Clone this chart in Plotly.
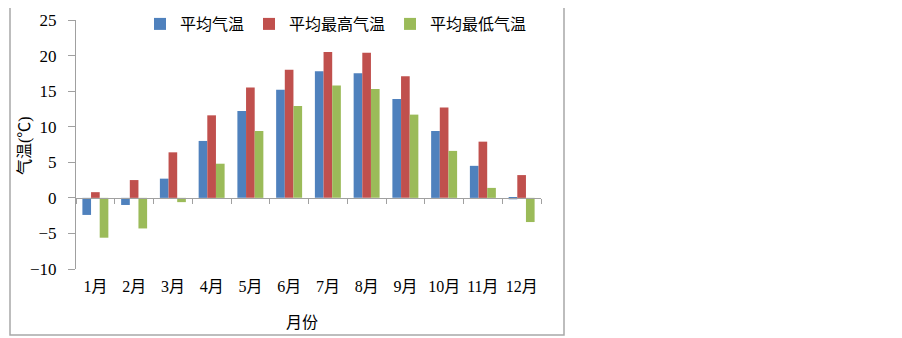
import plotly.graph_objects as go

months = ["1月", "2月", "3月", "4月", "5月", "6月", "7月", "8月", "9月", "10月", "11月", "12月"]
avg_temp = [-2.4, -1.0, 2.7, 8.0, 12.2, 15.2, 17.8, 17.5, 13.9, 9.4, 4.5, -0.2]
avg_max = [0.8, 2.5, 6.4, 11.6, 15.5, 18.0, 20.5, 20.4, 17.1, 12.7, 7.9, 3.2]
avg_min = [-5.6, -4.3, -0.6, 4.8, 9.4, 12.9, 15.8, 15.3, 11.7, 6.6, 1.4, -3.4]
series_names = ["平均气温", "平均最高气温", "平均最低气温"]
y_min, y_max, y_step = -10, 25, 5

colors = ["#4F81BD", "#C0504D", "#9BBB59"]
FONT = "Liberation Serif, 'Noto Sans CJK SC', serif"
AXIS_GRAY = "#A0A0A0"

fig = go.Figure()
for name, vals, col in zip(series_names, [avg_temp, avg_max, avg_min], colors):
    fig.add_trace(go.Bar(x=months, y=vals, name=name,
                         marker=dict(color=col, line=dict(width=0))))

# invisible helper trace so the zero-line axis knows the categories
fig.add_trace(go.Scatter(x=months, y=[0] * len(months), xaxis="x2", mode="markers",
                         marker=dict(opacity=0), showlegend=False, hoverinfo="skip"))

zero_pos = (0 - y_min) / (y_max - y_min)

# target plot area in page pixels; the page body adds an 8px offset
W, H = 902, 338
OFF = 8
L, R, T, B = 76, 541, 20, 269
pw, ph = R - L, B - T

def px_x(p):
    return (p - L) / pw

def px_y(p):
    return (B - p) / ph

fig.update_layout(
    width=W, height=H,
    margin=dict(l=L - OFF, r=W - (R - OFF), t=T - OFF, b=H - (B - OFF), pad=0,
                autoexpand=False),
    paper_bgcolor="white", plot_bgcolor="white",
    font=dict(family=FONT, size=15, color="#000000"),
    barmode="group", bargap=0.33, bargroupgap=0,
    showlegend=True,
    legend=dict(orientation="h", x=px_x(140), y=px_y(7), xanchor="left", yanchor="top",
                font=dict(size=16, family=FONT), bgcolor="rgba(0,0,0,0)",
                itemsizing="constant", traceorder="normal", itemwidth=30),
    xaxis=dict(type="category", categoryorder="array", categoryarray=months,
               range=[-0.5, len(months) - 0.5], showline=False, showgrid=False,
               ticks="", ticklabelstandoff=6, zeroline=False,
               tickfont=dict(size=16, family=FONT)),
    xaxis2=dict(type="category", categoryorder="array", categoryarray=months,
                range=[-0.5, len(months) - 0.5], overlaying="x", anchor="free",
                position=zero_pos, showline=True, linecolor=AXIS_GRAY, linewidth=1,
                ticks="outside", tickson="boundaries", ticklen=5, tickcolor=AXIS_GRAY,
                showticklabels=False, showgrid=False, zeroline=False),
    yaxis=dict(range=[y_min, y_max], dtick=y_step, tick0=0, showgrid=False,
               zeroline=False, showline=True, linecolor=AXIS_GRAY, linewidth=1,
               ticks="outside", ticklen=7, tickcolor=AXIS_GRAY, ticklabelstandoff=8,
               tickfont=dict(size=17, family=FONT)),
    shapes=[dict(type="rect", xref="paper", yref="paper",
                 x0=px_x(10), x1=px_x(564), y0=px_y(335), y1=px_y(2),
                 line=dict(color="#A8A8A8", width=1.5), fillcolor="rgba(0,0,0,0)",
                 layer="below")],
    annotations=[
        dict(text="气温(℃)", xref="paper", yref="paper", x=px_x(25), y=px_y(146),
             textangle=-90, showarrow=False, font=dict(size=16, family=FONT),
             xanchor="center", yanchor="middle"),
        dict(text="月份", xref="paper", yref="paper", x=px_x(302), y=px_y(322),
             showarrow=False, font=dict(size=16, family=FONT),
             xanchor="center", yanchor="middle"),
    ],
)

fig.write_html("out.html")
